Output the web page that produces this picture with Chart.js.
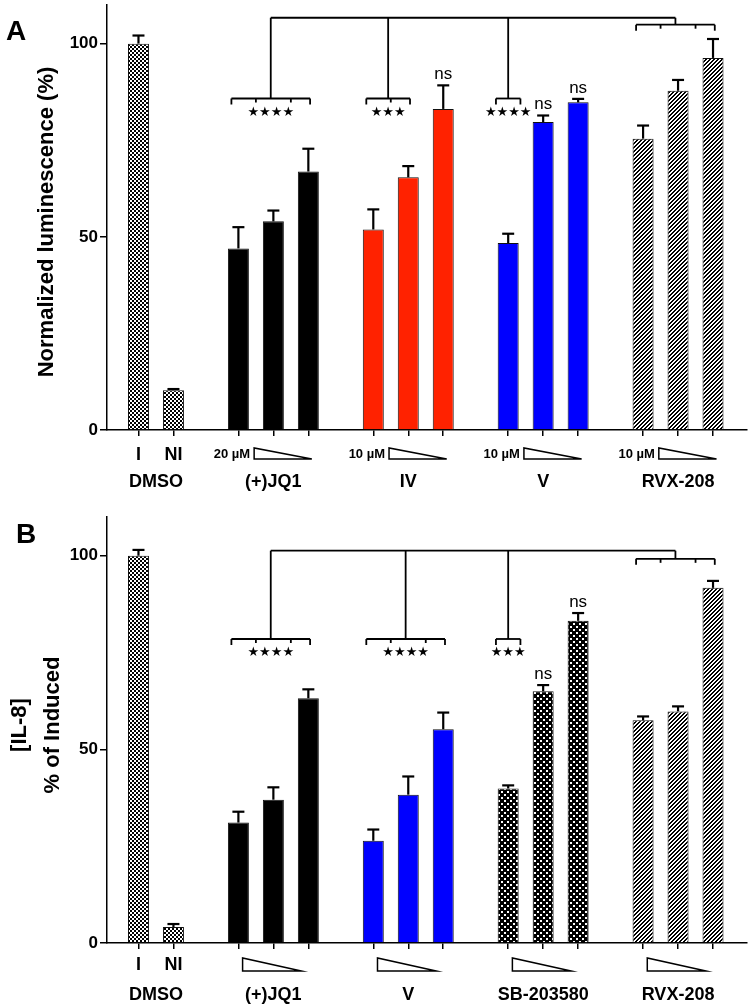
<!DOCTYPE html>
<html>
<head>
<meta charset="utf-8">
<script src="https://cdn.jsdelivr.net/npm/chart.js@4"></script>
<style>
  body { margin: 0; background: #fff; width: 750px; height: 1008px; position: relative; overflow: hidden; }
  canvas { position: absolute; left: 0; }
  #chartA { top: 0; }
  #chartB { top: 500px; }
</style>
</head>
<body>
<canvas id="chartA" width="750" height="500"></canvas>
<canvas id="chartB" width="750" height="508"></canvas>
<script>
// ---- data ----
const yTicks = [0, 50, 100];

// panel A: normalized luminescence
const groupsA = ['DMSO', '(+)JQ1', 'IV', 'V', 'RVX-208'];
const barLabelsA = [['I', 'NI'], [], [], [], []];
const valuesA = [[100, 10.3], [47.0, 54.0, 66.9], [51.9, 65.4, 83.1], [48.4, 79.7, 84.8], [75.4, 87.8, 96.3]];
const errorsA = [[2.1, 0.3], [5.5, 2.8, 5.9], [5.2, 2.9, 6.1], [2.4, 1.7, 0.9], [3.4, 2.8, 4.9]];
const doseA = ['', '20 µM', '10 µM', '10 µM', '10 µM'];
const starsA = ['', '★★★★', '★★★', '★★★★', ''];
const bracketsA = [null, [0, 2], [0, 1], [0, 0], [0, 2]];
const nsA = [[], [], [2], [1, 2], []];

// panel B: [IL-8] % of induced
const groupsB = ['DMSO', '(+)JQ1', 'V', 'SB-203580', 'RVX-208'];
const barLabelsB = [['I', 'NI'], [], [], [], []];
const valuesB = [[100, 4.1], [31.1, 37.0, 63.2], [26.4, 38.3, 55.2], [39.9, 65.0, 83.2], [57.5, 59.8, 91.7]];
const errorsB = [[1.5, 0.8], [2.8, 3.2, 2.3], [2.9, 4.7, 4.3], [0.8, 1.6, 2.0], [1.0, 1.3, 1.8]];
const doseB = ['', '', '', '', ''];
const starsB = ['', '★★★★', '★★★★', '★★★', ''];
const bracketsB = [null, [0, 2], [0, 2], [0, 0], [0, 2]];
const nsB = [[], [], [], [1, 2], []];

// ---- patterns ----
function makePattern(size, draw) {
  const c = document.createElement('canvas');
  c.width = c.height = size;
  const g = c.getContext('2d');
  draw(g, size);
  return g.createPattern(c, 'repeat');
}
const checker = makePattern(4, g => {
  g.fillStyle = '#fff'; g.fillRect(0, 0, 4, 4);
  g.fillStyle = '#000'; g.fillRect(0, 0, 2, 2); g.fillRect(2, 2, 2, 2);
});
const hatch = makePattern(4, g => {
  g.fillStyle = '#fff'; g.fillRect(0, 0, 4, 4);
  g.fillStyle = '#000';
  for (let x = 0; x < 4; x++) for (let y = 0; y < 4; y++) if ((x + y) % 4 < 2) g.fillRect(x, y, 1, 1);
});
const dots = makePattern(6, g => {
  g.fillStyle = '#000'; g.fillRect(0, 0, 6, 6);
  g.fillStyle = '#fff'; g.fillRect(0, 0, 2, 2); g.fillRect(3, 3, 2, 2);
});

const FONT = "'Liberation Sans', Arial, sans-serif";
const groupGap = 13 / 7;

function barPositions(values) {
  const pos = [];
  let x = 0;
  values.forEach((g, gi) => {
    if (gi > 0) x += groupGap;
    pos.push(g.map((_, i) => x + i));
    x += g.length - 1;
  });
  return pos;
}

function figurePlugin(p) {
  return {
    id: 'figure',
    afterDraw(chart) {
      const ctx = chart.ctx, xs = chart.scales.x, ys = chart.scales.y;
      const X = v => xs.getPixelForValue(v), Y = v => ys.getPixelForValue(v);
      const line = (x1, y1, x2, y2) => { ctx.beginPath(); ctx.moveTo(x1, y1); ctx.lineTo(x2, y2); ctx.stroke(); };
      const pos = p.pos;
      const base = Y(0);
      ctx.save();
      ctx.strokeStyle = '#000';
      ctx.fillStyle = '#000';

      // error bars (upper only)
      ctx.lineWidth = 2.2;
      p.values.forEach((g, gi) => g.forEach((v, i) => {
        const x = X(pos[gi][i]), y0 = Y(v), y1 = Y(v + p.errors[gi][i]);
        line(x, y0, x, y1);
        line(x - 6, y1, x + 6, y1);
      }));

      // ns marks
      ctx.font = '17px ' + FONT;
      ctx.textAlign = 'center';
      ctx.textBaseline = 'middle';
      p.ns.forEach((list, gi) => list.forEach(i => {
        const v = p.values[gi][i] + p.errors[gi][i];
        ctx.fillText('ns', X(pos[gi][i]), Y(v) - 11);
      }));

      // brackets
      ctx.lineWidth = 1.8;
      const span = (gi, r) => {
        const a = pos[gi][r[0]], b = pos[gi][r[1]];
        const single = r[0] === r[1];
        const left = X(single ? a - 0.35 : a - 0.2);
        const right = X(single ? b + 0.35 : b + 0.05);
        const inner = [];
        for (let i = r[0]; i < r[1]; i++) inner.push(X((pos[gi][i] + pos[gi][i + 1]) / 2));
        return { left, right, inner, mid: (left + right) / 2 };
      };
      const bracket = (s, y) => {
        line(s.left, y, s.right, y);
        line(s.left, y, s.left, y + 6);
        line(s.right, y, s.right, y + 6);
        s.inner.forEach(x => line(x, y, x, y + 4));
      };
      const yTop = Y(p.topLevel), ySub = Y(p.subLevel), yRef = Y(p.refLevel);
      const ref = span(p.ref, p.brackets[p.ref]);
      bracket(ref, yRef);
      line(ref.mid, yRef, ref.mid, yTop);
      let firstMid = null;
      ctx.font = '13px "DejaVu Sans"';
      p.brackets.forEach((r, gi) => {
        if (!r || gi === p.ref) return;
        const s = span(gi, r);
        if (firstMid === null) firstMid = s.mid;
        bracket(s, ySub);
        line(s.mid, ySub, s.mid, yTop);
        ctx.fillText(p.stars[gi], s.mid, ySub + 14);
      });
      line(firstMid, yTop, ref.mid, yTop);

      // below-axis labels
      ctx.font = 'bold 18px ' + FONT;
      p.barLabels.forEach((labels, gi) => labels.forEach((t, i) => {
        ctx.fillText(t, X(pos[gi][i]), base + p.barLabelY);
      }));
      p.groups.forEach((t, gi) => {
        const g = pos[gi];
        ctx.fillText(t, X((g[0] + g[g.length - 1]) / 2), base + 52);
      });
      // dose wedges
      ctx.lineWidth = 1.5;
      p.groups.forEach((t, gi) => {
        if (gi === 0) return;
        const g = pos[gi];
        const l = X(g[0] + p.wedge[0]), r = X(g[g.length - 1] + p.wedge[1]);
        const t0 = base + p.wedgeY[0], b0 = base + p.wedgeY[1];
        ctx.beginPath();
        ctx.moveTo(l, t0); ctx.lineTo(l, b0); ctx.lineTo(r, b0); ctx.closePath();
        ctx.fillStyle = '#fff'; ctx.fill(); ctx.stroke();
        ctx.fillStyle = '#000';
        if (p.dose[gi]) {
          ctx.font = 'bold 13px ' + FONT;
          ctx.textAlign = 'right';
          ctx.fillText(p.dose[gi], l - 4, base + 24);
          ctx.textAlign = 'center';
        }
      });

      // y title
      ctx.font = 'bold 22px ' + FONT;
      p.title.forEach(tl => {
        ctx.save();
        ctx.translate(tl[1], tl[2]);
        ctx.rotate(-Math.PI / 2);
        ctx.fillText(tl[0], 0, 0);
        ctx.restore();
      });
      // panel letter
      ctx.font = 'bold 28px ' + FONT;
      ctx.fillText(p.letter, p.letterXY[0], p.letterXY[1]);
      ctx.restore();
    }
  };
}

function makePanel(id, p) {
  p.pos = barPositions(p.values);
  const allPos = p.pos.flat();
  new Chart(document.getElementById(id), {
    type: 'bar',
    data: {
      datasets: p.values.map((g, gi) => ({
        label: p.groups[gi],
        data: g.map((v, i) => ({ x: p.pos[gi][i], y: v })),
        backgroundColor: p.fills[gi],
        borderColor: '#111',
        borderWidth: 1,
        grouped: false,
        barPercentage: 0.6,
        categoryPercentage: 1
      }))
    },
    options: {
      responsive: false,
      animation: false,
      layout: { padding: { top: p.padTop, right: 3, left: 0, bottom: 0 } },
      plugins: { legend: { display: false }, tooltip: { enabled: false } },
      scales: {
        x: {
          type: 'linear', min: -0.9, max: 17.4, offset: false,
          afterBuildTicks: s => { s.ticks = allPos.map(v => ({ value: v })); },
          ticks: { display: false },
          grid: { drawOnChartArea: false, drawTicks: true, tickLength: 6, color: '#000', lineWidth: 1.5, offset: false },
          border: { color: '#000', width: 1.5 },
          afterFit: s => { s.height = p.xHeight; s.paddingLeft = 0; s.paddingRight = 0; }
        },
        y: {
          min: 0, max: 110,
          afterBuildTicks: s => { s.ticks = yTicks.map(v => ({ value: v })); },
          ticks: { color: '#000', font: { family: FONT, weight: 'bold', size: 17 }, padding: 2 },
          grid: { drawOnChartArea: false, tickLength: 7, color: '#000', lineWidth: 1.5 },
          border: { color: '#000', width: 1.5 },
          afterFit: s => { s.width = 107; s.paddingTop = 0; s.paddingBottom = 0; }
        }
      }
    },
    plugins: [figurePlugin(p)]
  });
}

makePanel('chartA', {
  groups: groupsA, barLabels: barLabelsA, values: valuesA, errors: errorsA,
  dose: doseA, stars: starsA, brackets: bracketsA, ns: nsA, ref: 4,
  fills: [checker, '#000', '#ff2200', '#0000ff', hatch],
  topLevel: 106.7, subLevel: 85.8, refLevel: 104.9,
  padTop: 5, xHeight: 70, barLabelY: 25,
  wedge: [0.45, 0.1], wedgeY: [18, 29],
  title: [['Normalized luminescence (%)', 47, 222]],
  letter: 'A', letterXY: [16, 32]
});

makePanel('chartB', {
  groups: groupsB, barLabels: barLabelsB, values: valuesB, errors: errorsB,
  dose: doseB, stars: starsB, brackets: bracketsB, ns: nsB, ref: 4,
  fills: [checker, '#000', '#0000ff', dots, hatch],
  topLevel: 101.3, subLevel: 78.5, refLevel: 99.2,
  padTop: 17, xHeight: 65, barLabelY: 22,
  wedge: [0.12, -0.2], wedgeY: [15, 28],
  title: [['[IL-8]', 20, 225], ['% of Induced', 53, 225]],
  letter: 'B', letterXY: [26, 35]
});
</script>
</body>
</html>
